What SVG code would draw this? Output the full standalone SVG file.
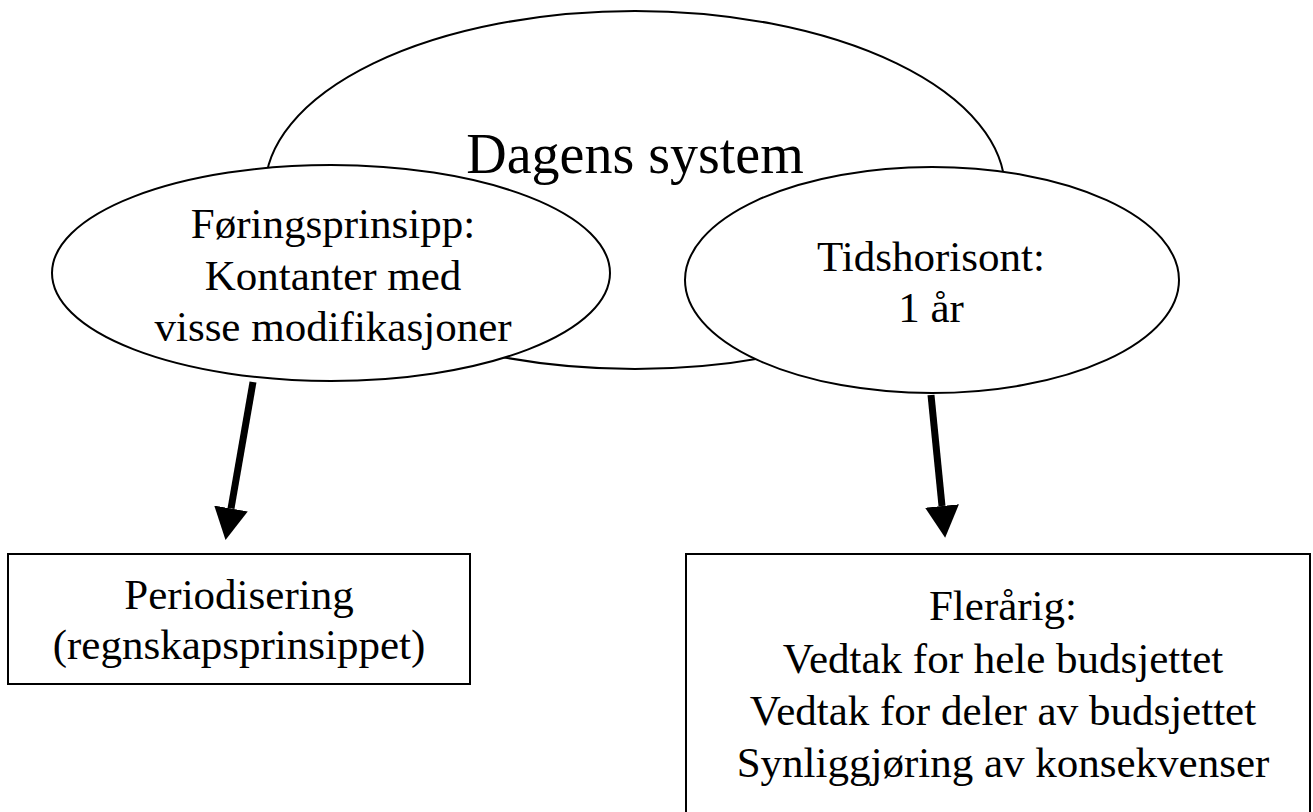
<svg xmlns="http://www.w3.org/2000/svg" width="1313" height="812" viewBox="0 0 1313 812">
<style>
.shape{fill:#fff;stroke:#000;stroke-width:2}
.t{font-family:"Liberation Serif","Times New Roman",serif;font-size:43px;fill:#000;text-anchor:middle}
.title{font-size:56px}
.conn{stroke:#000;stroke-width:7;fill:none}
</style>
<defs>
<marker id="head" markerUnits="userSpaceOnUse" viewBox="0 0 32 34" markerWidth="32" markerHeight="34" refX="0" refY="17" orient="auto">
<path d="M0,0 L32,17 L0,34 Z" fill="#000"/>
</marker>
</defs>
<rect width="1313" height="812" fill="#fff"/>
<g id="dagens-system">
<ellipse class="shape" cx="635" cy="190" rx="370" ry="179"/>
</g>
<g id="foringsprinsipp">
<ellipse class="shape" cx="331" cy="273" rx="279" ry="108"/>
<text class="t" x="333" y="238">Føringsprinsipp:</text>
<text class="t" x="333" y="290">Kontanter med</text>
<text class="t" x="333" y="341">visse modifikasjoner</text>
</g>
<g id="tidshorisont">
<ellipse class="shape" cx="932" cy="280" rx="247" ry="113"/>
<text class="t" x="931" y="271">Tidshorisont:</text>
<text class="t" x="931" y="322">1 år</text>
</g>
<g id="dagens-label">
<text class="t title" x="635" y="173">Dagens system</text>
</g>
<g id="connectors">
<line class="conn" x1="253" y1="382" x2="231" y2="508.5" marker-end="url(#head)"/>
<line class="conn" x1="931" y1="395" x2="942" y2="506" marker-end="url(#head)"/>
</g>
<g id="periodisering">
<rect class="shape" x="8" y="554" width="462" height="130"/>
<text class="t" x="239" y="609">Periodisering</text>
<text class="t" x="239" y="659">(regnskapsprinsippet)</text>
</g>
<g id="flerarig">
<rect class="shape" x="686" y="554" width="624" height="300"/>
<text class="t" x="1003" y="620">Flerårig:</text>
<text class="t" x="1003" y="673">Vedtak for hele budsjettet</text>
<text class="t" x="1003" y="725">Vedtak for deler av budsjettet</text>
<text class="t" x="1003" y="777">Synliggjøring av konsekvenser</text>
</g>
</svg>
